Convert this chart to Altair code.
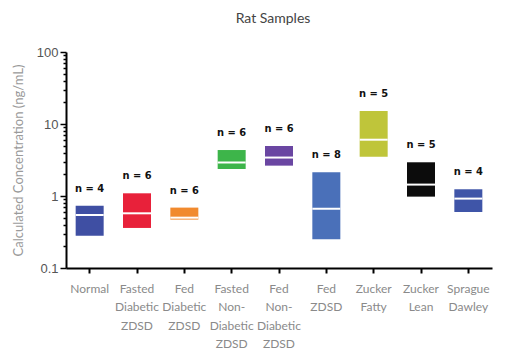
import altair as alt
import pandas as pd

categories = ["Normal", "Fasted|Diabetic|ZDSD", "Fed|Diabetic|ZDSD", "Fasted|Non-|Diabetic|ZDSD",
              "Fed|Non-|Diabetic|ZDSD", "Fed|ZDSD", "Zucker|Fatty", "Zucker|Lean", "Sprague|Dawley"]
low = [0.28, 0.36, 0.47, 2.37, 2.64, 0.25, 3.5, 0.98, 0.60]
high = [0.73, 1.09, 0.69, 4.35, 4.95, 2.13, 15.2, 2.94, 1.24]
median = [0.545, 0.575, 0.50, 2.92, 3.42, 0.667, 6.05, 1.44, 0.92]
n_vals = [4, 6, 6, 6, 6, 8, 5, 5, 4]
colors = ["#3f4fa3", "#e8213a", "#f18a2e", "#3db54a", "#6a46a2", "#4a70b9", "#bfc53a", "#0c0c0c", "#3f55a8"]

y_ticks = [0.1, 0.2, 0.3, 0.4, 0.5, 0.6, 0.7, 0.8, 0.9, 1, 2, 3, 4, 5, 6, 7, 8, 9,
           10, 20, 30, 40, 50, 60, 70, 80, 90, 100]

df = pd.DataFrame({
    "cat": categories, "low": low, "high": high, "median": median,
    "label": [f"n = {v}" for v in n_vals],
})

major = "abs(log(datum.value)/LN10 - round(log(datum.value)/LN10)) < 0.000001"

x = alt.X("cat:N", sort=categories, title=None,
          scale=alt.Scale(paddingInner=0, paddingOuter=0),
          axis=alt.Axis(labelExpr="split(datum.label, '|')", labelAngle=0,
                        labelFont="Lato", labelFontSize=12, labelColor="#8a8a8a",
                        labelLineHeight=18.5, labelPadding=10, labelBaseline="top",
                        domainColor="#000", domainWidth=2, tickColor="#000",
                        tickWidth=2, tickSize=5))

yscale = alt.Scale(type="log", domain=[0.1, 100])

base = alt.Chart(df)

bars = base.mark_bar(size=28).encode(
    x=x,
    y=alt.Y("low:Q", scale=yscale, title="Calculated Concentration (ng/mL)",
            axis=alt.Axis(values=y_ticks,
                          labelExpr=f"{major} ? format(datum.value, '~g') : ''",
                          tickSize={"condition": {"test": major, "value": 6}, "value": 3},
                          tickColor="#000", tickWidth=1.5,
                          domainColor="#000", domainWidth=2,
                          labelFont="Liberation Sans", labelFontSize=13, labelColor="#555",
                          labelPadding=2, grid=False,
                          titleFont="Lato", titleFontSize=13, titleColor="#9a9a9a",
                          titleFontWeight="normal", titlePadding=11)),
    y2="high:Q",
    color=alt.Color("cat:N", sort=categories, scale=alt.Scale(domain=categories, range=colors), legend=None),
)

med = base.mark_tick(size=28, thickness=2, color="white", opacity=1).encode(
    x=alt.X("cat:N", sort=categories),
    y=alt.Y("median:Q", scale=yscale),
)

txt = base.mark_text(font="DejaVu Sans Condensed", fontWeight="bold", fontSize=11,
                     color="#111", dy=-17, baseline="middle").encode(
    x=alt.X("cat:N", sort=categories),
    y=alt.Y("high:Q", scale=yscale),
    text="label:N",
)

chart = alt.layer(bars, med, txt).properties(
    width=426, height=216,
    title=alt.Title("Rat Samples", font="Lato", fontSize=14, fontWeight="normal",
                    color="#444", offset=20, dx=-6),
    padding={"left": 4, "top": 4, "right": 5, "bottom": 5},
).configure_view(stroke=None)

chart.save("out.html", embed_options={"renderer": "svg", "actions": False})
